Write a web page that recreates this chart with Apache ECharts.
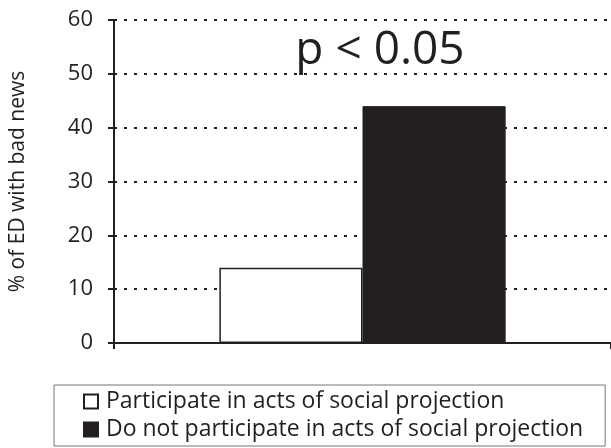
<!DOCTYPE html>
<html>
<head>
<meta charset="utf-8">
<script src="https://cdn.jsdelivr.net/npm/echarts@6/dist/echarts.min.js"></script>
<style>
html,body{margin:0;padding:0;background:#fff;}
#chart{width:611px;height:448px;}
</style>
</head>
<body>
<div id="chart"></div>
<script>
const categories = [""];
const seriesNames = ["Participate in acts of social projection", "Do not participate in acts of social projection"];
const participate = [14];
const notParticipate = [44];
const yTicks = [0, 10, 20, 30, 40, 50, 60];
const annotation = "p < 0.05";
const yAxisTitle = "% of ED with bad news";

const FONT = "Open Sans";
const INK = "#231f20";
const chart = echarts.init(document.getElementById('chart'), null, {renderer: 'canvas'});
chart.setOption({
  animation: false,
  backgroundColor: '#fff',
  textStyle: {fontFamily: FONT, color: INK},
  grid: {left: 108, right: 0, top: 20, bottom: 105, containLabel: false},
  title: {
    text: annotation,
    left: 375, top: 23, textAlign: 'center',
    textStyle: {fontFamily: FONT, fontSize: 46, fontWeight: 'normal', color: INK}
  },
  legend: {
    orient: 'vertical',
    left: 54, top: 385,
    padding: [4, 22, 4, 29],
    itemGap: 3,
    itemWidth: 14, itemHeight: 14,
    icon: 'rect',
    borderColor: '#777', borderWidth: 1,
    textStyle: {fontFamily: FONT, fontSize: 23, color: INK, lineHeight: 25, padding: [0, 0, 0, 3]},
    data: seriesNames
  },
  xAxis: {
    type: 'category',
    data: categories,
    axisLine: {lineStyle: {color: INK, width: 2}},
    axisTick: {show: true, length: 6, lineStyle: {color: INK, width: 2}},
    axisLabel: {show: false},
    splitLine: {show: false}
  },
  yAxis: {
    type: 'value',
    min: 0, max: 60, interval: 10,
    name: yAxisTitle,
    nameLocation: 'middle',
    nameGap: 85,
    nameTextStyle: {fontFamily: FONT, fontSize: 21, color: INK},
    axisLine: {show: true, lineStyle: {color: INK, width: 2}},
    axisTick: {show: true, length: 6, lineStyle: {color: INK, width: 2}},
    axisLabel: {
      fontFamily: FONT, fontSize: 22, color: INK, margin: 21,
      formatter: v => yTicks.includes(v) ? String(v) : ''
    },
    splitLine: {show: true, lineStyle: {color: INK, width: 2, type: [3, 7]}}
  },
  series: [
    {
      name: seriesNames[0], type: 'bar', data: participate,
      barWidth: '28.8%', barGap: '0%',
      itemStyle: {color: '#fff', borderColor: INK, borderWidth: 1.5}
    },
    {
      name: seriesNames[1], type: 'bar', data: notParticipate,
      barWidth: '28.8%', barGap: '0%',
      itemStyle: {color: INK, borderColor: INK, borderWidth: 1}
    }
  ]
});
</script>
</body>
</html>
